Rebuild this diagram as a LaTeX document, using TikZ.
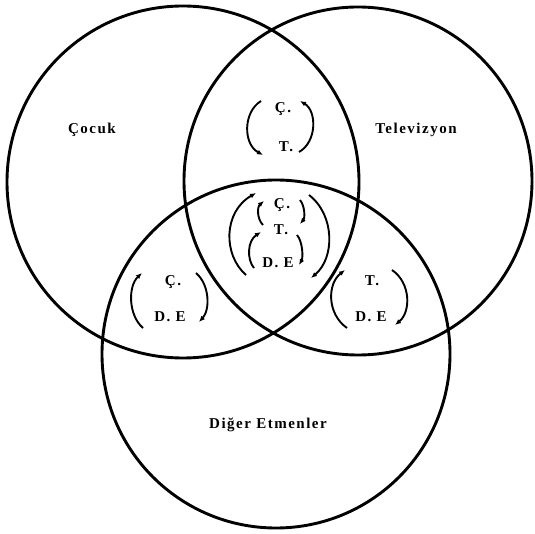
\documentclass[tikz,border=0pt]{standalone}
\usepackage{fontspec}
\setmainfont{Liberation Serif}[LetterSpace=10]
\usetikzlibrary{arrows.meta}
\begin{document}
\begin{tikzpicture}[x=1pt,y=-1pt,
  ring/.style={draw,line width=2.9pt},
  lbl/.style={font=\fontsize{15}{17}\selectfont\bfseries,inner sep=0pt},
  cyc/.style={line width=1.9pt,-{Latex[length=6pt,width=5pt]}}]
\useasboundingbox (0,0) rectangle (535,534);
% circles
\draw[ring] (183,182) circle[radius=176pt];
\draw[ring] (358,181) circle[radius=174pt];
\draw[ring] (276,354) circle[radius=174pt];
% main labels
\node[lbl] (cocuk) at (92,130) {Çocuk};
\node[lbl] (tv) at (416,130) {Televizyon};
\node[lbl] (diger) at (268,425) {Diğer Etmenler};
% top region: C - T
\node[lbl] (c1) at (283,109) {Ç.};
\node[lbl] (t1) at (286,147) {T.};
\draw[cyc] (261,101) .. controls (243,112) and (243,144) .. (263,155);
\draw[cyc] (299,152) .. controls (317,142) and (317,111) .. (300,101);
% centre region
\node[lbl] (c2) at (282,205) {Ç.};
\node[lbl] (t2) at (281,230) {T.};
\node[lbl] (de2) at (278,263) {D. E};
\draw[cyc] (246,275) .. controls (223,255) and (223,212) .. (256,193);
\draw[cyc] (309,195) .. controls (335,215) and (335,258) .. (311,278);
\draw[cyc] (263,225) .. controls (257,219) and (257,207) .. (264,201);
\draw[cyc] (300,200) .. controls (305,206) and (305,218) .. (300,224);
\draw[cyc] (254,268) .. controls (247,260) and (247,241) .. (261,232);
\draw[cyc] (297,235) .. controls (303,242) and (303,258) .. (299,265);
% bottom-left region: C - DE
\node[lbl] (c3) at (173,282) {Ç.};
\node[lbl] (de3) at (170,317) {D. E};
\draw[cyc] (143,328) .. controls (128,315) and (128,286) .. (142,273);
\draw[cyc] (196,273) .. controls (210,285) and (210,310) .. (199,322);
% bottom-right region: T - DE
\node[lbl] (t4) at (372,281) {T.};
\node[lbl] (de4) at (371,317) {D. E};
\draw[cyc] (347,328) .. controls (327,314) and (327,284) .. (345,270);
\draw[cyc] (392,270) .. controls (411,283) and (411,312) .. (395,325);
\end{tikzpicture}
\end{document}
